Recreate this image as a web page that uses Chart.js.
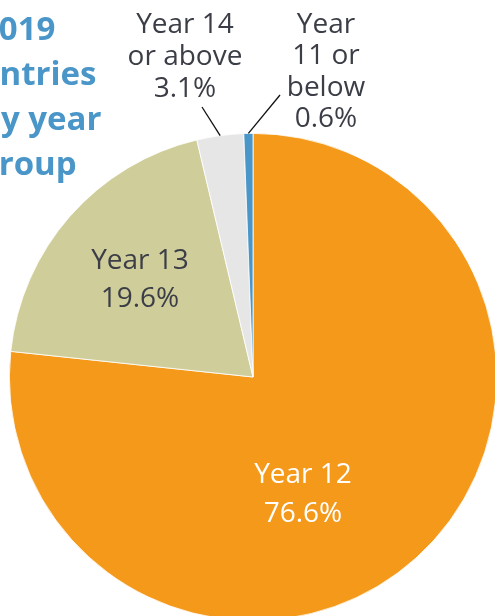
<!DOCTYPE html>
<html>
<head>
<meta charset="utf-8">
<script src="https://cdn.jsdelivr.net/npm/chart.js@4"></script>
<style>
  html, body { margin: 0; padding: 0; background: #fff; overflow: hidden; }
  body { width: 495px; height: 616px; position: relative; }
  #wrap { position: absolute; left: 0; top: 0; width: 500px; height: 625px; }
</style>
</head>
<body>
<div id="wrap"><canvas id="pie"></canvas></div>
<script>
// data, clockwise from 12 o'clock
const groups = ["Year 12", "Year 13", "Year 14 or above", "Year 11 or below"];
const shares = [76.6, 19.6, 3.1, 0.6];
const colours = ["#F4991A", "#CFCE9B", "#E6E6E6", "#4A96C8"];

const titleLines = ["2019", "entries", "by year", "group"];

// label text per slice (shown as stacked lines)
const labelLines = [
    ["Year 12", "76.6%"],
    ["Year 13", "19.6%"],
    ["Year 14", "or above", "3.1%"],
    ["Year", "11 or", "below", "0.6%"]
];

const FONT = '"Open Sans", "Noto Sans", sans-serif';

// where each label sits and how it's tied to its slice
const labelSpots = [
    { x: 303, y: 483, lh: 39, color: "#ffffff" },
    { x: 140, y: 269, lh: 38, color: "#3b3e46" },
    { x: 185, y: 33, lh: 32, color: "#3b3e46", lineFrom: [202, 107], along: 0.5 },
    { x: 326, y: 33, lh: 31.3, color: "#3b3e46", lineFrom: [280, 95], along: 0.5 }
];

const labelPlugin = {
    id: "pieLabels",
    afterDraw(chart) {
        const ctx = chart.ctx;
        const arcs = chart.getDatasetMeta(0).data;

        ctx.save();
        // title, partly cut off at the left edge
        ctx.fillStyle = "#4A96C8";
        ctx.font = "bold 33px " + FONT;
        ctx.textAlign = "left";
        ctx.textBaseline = "alphabetic";
        titleLines.forEach((s, i) => ctx.fillText(s, -20, 40 + i * 45));

        ctx.font = "28px " + FONT;
        ctx.textAlign = "center";
        labelSpots.forEach((spot, i) => {
            ctx.fillStyle = spot.color;
            labelLines[i].forEach((s, j) => ctx.fillText(s, spot.x, spot.y + j * spot.lh));

            if (spot.lineFrom) {
                const a = arcs[i];
                const ang = a.startAngle + (a.endAngle - a.startAngle) * spot.along;
                const ex = a.x + Math.cos(ang) * a.outerRadius;
                const ey = a.y + Math.sin(ang) * a.outerRadius;
                ctx.beginPath();
                ctx.moveTo(spot.lineFrom[0], spot.lineFrom[1]);
                ctx.lineTo(ex, ey);
                ctx.strokeStyle = "#111";
                ctx.lineWidth = 1.3;
                ctx.stroke();
            }
        });
        ctx.restore();
    }
};

new Chart(document.getElementById("pie"), {
    type: "pie",
    data: {
        labels: groups,
        datasets: [{
            data: shares,
            backgroundColor: colours,
            borderColor: "#ffffff",
            borderWidth: 0.8
        }]
    },
    options: {
        responsive: true,
        maintainAspectRatio: false,
        animation: false,
        layout: { padding: { left: 9, right: 3, top: 133, bottom: 4 } },
        plugins: {
            legend: { display: false },
            tooltip: { enabled: false }
        }
    },
    plugins: [labelPlugin]
});
</script>
</body>
</html>
